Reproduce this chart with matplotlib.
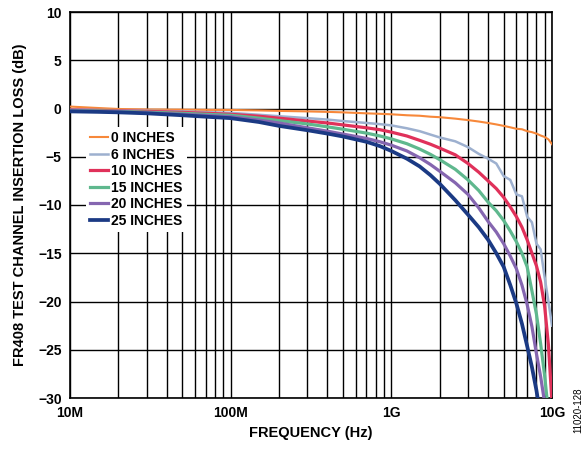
import numpy as np
import matplotlib
matplotlib.use("Agg")
from matplotlib import pyplot as plt
from matplotlib.ticker import LogLocator, FixedLocator, NullFormatter

plt.rcParams['font.family'] = ['Liberation Sans', 'DejaVu Sans']

# frequency points (GHz)
freq_ghz = [0.01, 0.015, 0.02, 0.03, 0.05, 0.07, 0.1, 0.15, 0.2, 0.3, 0.4, 0.5, 0.7, 0.85,
            1.0, 1.25, 1.5, 1.75, 2.0, 2.5, 3.0, 3.5, 4.0, 4.5, 5.0, 5.5, 6.0, 6.5, 7.0,
            7.5, 8.0, 8.5, 9.0, 9.5, 10.0]

loss_0in = [0.2, 0.05, -0.05, -0.1, -0.12, -0.14, -0.15, -0.2, -0.25, -0.3, -0.35, -0.4, -0.5, -0.55,
            -0.6, -0.7, -0.75, -0.85, -0.9, -1.05, -1.2, -1.35, -1.5, -1.65, -1.8, -1.95, -2.1, -2.15, -2.35,
            -2.45, -2.6, -2.8, -2.95, -3.2, -3.7]
loss_6in = [-0.1, -0.15, -0.18, -0.23, -0.3, -0.38, -0.45, -0.65, -0.8, -1.0, -1.15, -1.3, -1.5, -1.62,
            -1.75, -2.05, -2.35, -2.7, -3.0, -3.4, -4.0, -4.7, -5.2, -5.7, -7.0, -7.4, -8.9, -9.1, -11.2,
            -11.8, -14.0, -14.6, -17.5, -20.0, -22.5]
loss_10in = [-0.15, -0.2, -0.25, -0.3, -0.4, -0.5, -0.6, -0.8, -1.0, -1.3, -1.5, -1.7, -2.0, -2.2,
             -2.45, -2.85, -3.3, -3.7, -4.1, -4.8, -5.7, -6.6, -7.5, -8.3, -9.2, -10.2, -11.2, -12.3, -13.6,
             -15.0, -16.3, -18.0, -20.5, -24.5, -30.5]
loss_15in = [-0.2, -0.25, -0.3, -0.38, -0.5, -0.6, -0.7, -1.0, -1.25, -1.6, -1.9, -2.15, -2.55, -2.85,
             -3.15, -3.65, -4.2, -4.75, -5.3, -6.3, -7.4, -8.5, -9.7, -10.6, -11.6, -12.7, -13.8, -15.0, -16.4,
             -18.9, -21.3, -24.4, -27.7, -31.5, -35.0]
loss_20in = [-0.25, -0.3, -0.35, -0.45, -0.6, -0.72, -0.85, -1.2, -1.5, -2.0, -2.35, -2.65, -3.1, -3.45,
             -3.8, -4.4, -5.1, -5.8, -6.5, -7.7, -8.9, -10.3, -11.7, -12.8, -14.0, -15.3, -16.6, -18.3, -20.3,
             -22.6, -25.4, -27.8, -30.5, -33.5, -37.0]
loss_25in = [-0.3, -0.35, -0.4, -0.5, -0.7, -0.85, -1.0, -1.4, -1.8, -2.25, -2.6, -2.9, -3.45, -3.9,
             -4.4, -5.2, -6.0, -6.9, -7.8, -9.5, -11.0, -12.3, -13.6, -15.0, -16.4, -18.3, -20.2, -22.3, -24.6,
             -26.8, -29.2, -32.0, -35.0, -38.0, -41.0]

labels = ['0 INCHES', '6 INCHES', '10 INCHES', '15 INCHES', '20 INCHES', '25 INCHES']
colors = ['#F7883A', '#9DB0CF', '#E0315A', '#5FB88E', '#8566B0', '#1B3A84']
widths = [1.5, 1.8, 2.3, 2.3, 2.3, 2.7]
series = [loss_0in, loss_6in, loss_10in, loss_15in, loss_20in, loss_25in]

fig = plt.figure(figsize=(5.87, 4.5), dpi=100)
ax = fig.add_axes([70/587, 1-398/450, 482/587, 386/450])

f_hz = np.array(freq_ghz) * 1e9
for vals, lab, c, w in zip(series, labels, colors, widths):
    ax.plot(f_hz, vals, color=c, lw=w, label=lab, zorder=3)

ax.set_xscale('log')
ax.set_xlim(1e7, 1e10)
ax.set_ylim(-30, 10)
ax.xaxis.set_major_locator(FixedLocator([1e7, 1e8, 1e9, 1e10]))
ax.xaxis.set_minor_locator(LogLocator(base=10, subs=np.arange(2, 10)))
ax.xaxis.set_minor_formatter(NullFormatter())
ax.set_xticks([1e7, 1e8, 1e9, 1e10])
ax.set_xticklabels(['10M', '100M', '1G', '10G'])
ax.set_yticks(np.arange(-30, 11, 5))
ax.set_yticklabels(['\u221230', '\u221225', '\u221220', '\u221215', '\u221210', '\u22125', '0', '5', '10'])

ax.grid(True, which='both', color='black', lw=1.0, zorder=1)
ax.tick_params(which='both', length=0, labelsize=10, pad=6)
for t in ax.get_xticklabels() + ax.get_yticklabels():
    t.set_fontweight('bold')
for s in ax.spines.values():
    s.set_linewidth(1.2)

ax.set_xlabel('FREQUENCY (Hz)', fontsize=10.5, fontweight='bold', labelpad=4)
ax.set_ylabel('FR408 TEST CHANNEL INSERTION LOSS (dB)', fontsize=10.5, fontweight='bold', labelpad=8)

leg = ax.legend(loc='upper left', bbox_to_anchor=(16/482, 1-115/386), borderaxespad=0,
                frameon=True, fancybox=False, framealpha=1, edgecolor='none',
                handlelength=1.3, handletextpad=0.2, labelspacing=0.18, borderpad=0.3,
                prop={'weight': 'bold', 'size': 10})
leg.set_zorder(5)

fig.text(578/587, 1-410/450, '11020-128', rotation=90, fontsize=7, ha='center', va='center')

fig.savefig('out.png', dpi=100)
